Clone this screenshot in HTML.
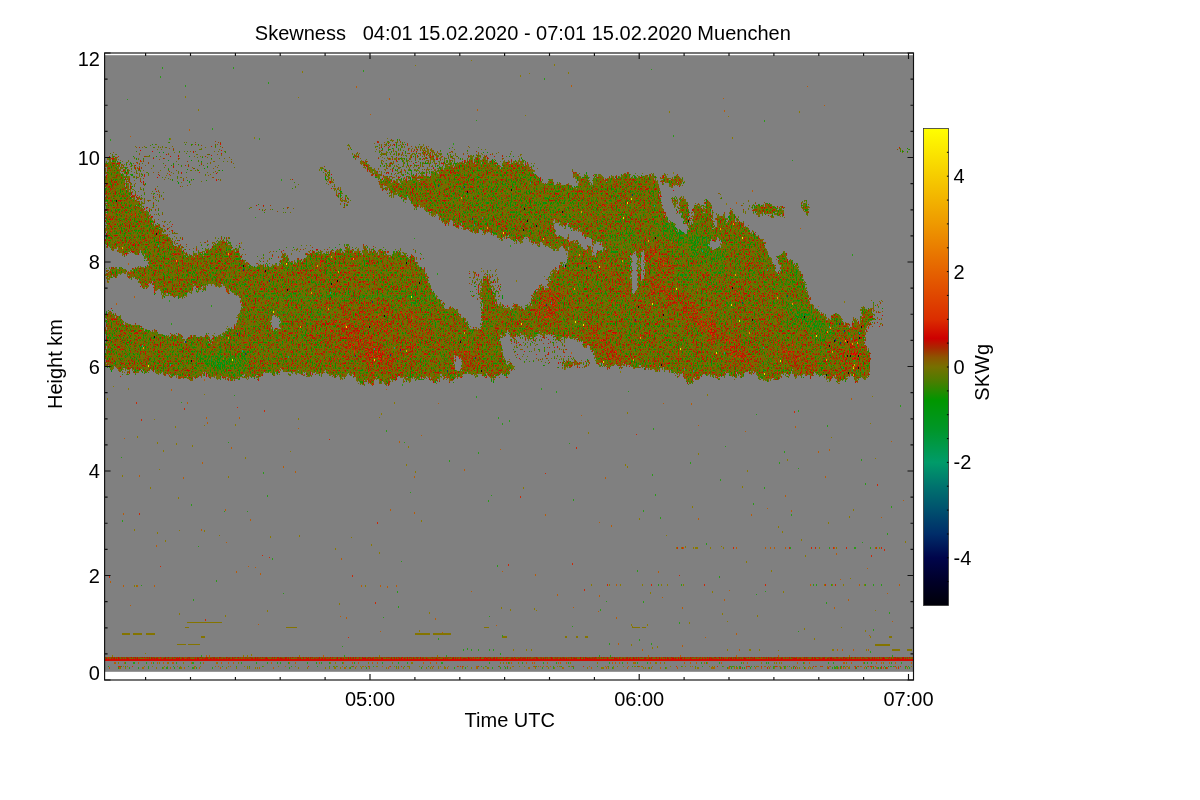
<!DOCTYPE html>
<html lang="en"><head><meta charset="utf-8"><title>Skewness 04:01 15.02.2020 - 07:01 15.02.2020 Muenchen</title>
<style>html,body{margin:0;padding:0;background:#fff}svg{display:block}text{font-family:"Liberation Sans",sans-serif;font-size:20.0px;fill:#000}</style></head><body>
<svg width="1200" height="800" viewBox="0 0 1200 800">
<defs>
<linearGradient id="cb" x1="0" y1="0" x2="0" y2="1">
<stop offset="0.000" stop-color="rgb(255,255,0)"/>
<stop offset="0.100" stop-color="rgb(246,204,0)"/>
<stop offset="0.200" stop-color="rgb(238,153,0)"/>
<stop offset="0.300" stop-color="rgb(229,98,0)"/>
<stop offset="0.400" stop-color="rgb(219,45,0)"/>
<stop offset="0.440" stop-color="rgb(205,0,0)"/>
<stop offset="0.460" stop-color="rgb(168,40,0)"/>
<stop offset="0.480" stop-color="rgb(140,85,0)"/>
<stop offset="0.500" stop-color="rgb(118,112,0)"/>
<stop offset="0.530" stop-color="rgb(75,125,0)"/>
<stop offset="0.570" stop-color="rgb(0,150,0)"/>
<stop offset="0.630" stop-color="rgb(0,150,40)"/>
<stop offset="0.700" stop-color="rgb(0,155,105)"/>
<stop offset="0.750" stop-color="rgb(0,115,110)"/>
<stop offset="0.800" stop-color="rgb(0,80,110)"/>
<stop offset="0.850" stop-color="rgb(0,45,105)"/>
<stop offset="0.900" stop-color="rgb(0,5,75)"/>
<stop offset="0.950" stop-color="rgb(0,0,40)"/>
<stop offset="1.000" stop-color="rgb(0,0,8)"/>
</linearGradient>
<mask id="cm" maskUnits="userSpaceOnUse" x="100" y="50" width="820" height="630">
<polygon fill="#fff" points="105,164 112,161 118,166 123,180 129,195 138,205 150,215 161,229 173,244 187,255 205,255 215,247 225,240 235,247 240,260 255,265 275,266 287,255 292,262 300,262 312,252 330,250 350,250 380,251 400,252 410,255 425,270 432,287 442,302 457,312 467,322 475,329 481,325 481,287 487,276 492,287 496,302 505,307 530,305 532,292 550,285 552,270 565,262 570,252 550,247 525,240 500,237 475,232 450,225 425,212 400,197 375,175 350,150 362,158 380,174 396,183 430,176 452,164 468,159 492,159 500,165 516,161 530,166 540,177 560,187 572,187 580,180 570,170 575,167 590,177 612,176 637,174 657,176 660,192 668,197 680,196 687,199 692,207 707,197 715,212 725,217 732,210 740,222 752,230 760,237 770,252 775,270 780,272 780,265 775,252 785,252 797,265 805,280 810,300 820,312 835,316 850,322 860,320 862,310 872,310 874,322 867,327 865,350 871,352 870,370 865,380 835,380 815,377 785,375 767,380 755,375 710,377 690,380 670,372 650,370 625,366 620,367 597,367 597,360 585,345 565,337 545,334 530,337 505,335 500,337 505,360 515,365 515,372 495,377 462,377 425,380 415,377 400,380 390,385 370,380 365,387 350,377 275,374 240,379 220,380 162,375 125,372 105,369"/>
<polygon fill="#fff" points="660,177 672,176 685,178 684,186 672,187 661,186"/>
<polygon fill="#fff" points="752,203 770,204 785,207 785,216 770,217 753,213"/>
<polygon fill="#fff" points="802,200 809,200 809,212 802,212"/>
<polygon fill="#fff" points="557,362 572,360 590,361 590,367 557,367"/>
<polygon fill="#fff" points="897,151 912,151 912,155 897,155"/>
<polygon fill="#fff" fill-opacity="0.6" points="105,153 118,153 127,165 133,190 146,207 138,206 128,196 121,180 114,164 105,166"/>
<polygon fill="#fff" fill-opacity="0.7" points="344,148 350,146 401,192 394,199"/>
<polygon fill="#fff" fill-opacity="0.33" points="128,142 225,138 232,160 222,185 170,188 135,175"/>
<polygon fill="#fff" fill-opacity="0.42" points="150,186 160,186 168,200 160,204 150,198"/>
<polygon fill="#fff" fill-opacity="0.45" points="229,154 236,154 238,166 232,167"/>
<polygon fill="#fff" fill-opacity="0.62" points="316,165 324,163 352,202 343,208"/>
<polygon fill="#fff" fill-opacity="0.38" points="122,156 140,163 150,195 170,220 192,246 215,238 228,232 240,246 250,258 235,262 222,250 205,262 185,262 165,240 148,215 130,195"/>
<polygon fill="#fff" fill-opacity="0.36" points="250,256 290,246 330,243 420,246 432,262 420,262 410,254 330,252 290,258 260,266"/>
<polygon fill="#fff" fill-opacity="0.36" points="420,150 480,146 530,156 548,172 530,168 480,158 425,160"/>
<polygon fill="#fff" fill-opacity="0.5" points="372,142 400,138 432,148 458,158 450,166 430,177 396,184 380,172"/>
<polygon fill="#fff" fill-opacity="0.4" points="288,180 300,180 300,192 290,192"/>
<polygon fill="#fff" fill-opacity="0.33" points="240,200 300,205 345,225 300,215 250,212"/>
<polygon fill="#fff" fill-opacity="0.45" points="468,268 500,268 505,300 470,300"/>
<polygon fill="#fff" fill-opacity="0.36" points="505,325 560,330 575,355 545,368 515,362"/>
<polygon fill="#fff" fill-opacity="0.45" points="540,280 575,255 590,262 560,292"/>
<polygon fill="#fff" fill-opacity="0.4" points="870,295 884,295 884,330 870,332"/>
<polygon fill="#fff" fill-opacity="0.4" points="740,200 752,200 752,215 740,215"/>
<polygon fill="#fff" fill-opacity="0.38" points="715,188 725,188 725,200 715,200"/>
<polygon fill="#000" points="659,186 670,188 672,205 683,220 690,232 686,235 676,226 668,215 662,205"/>
<polygon fill="#000" points="676,193 680,193 679,214"/>
<polygon fill="#000" points="688,196 693,196 692,221 690,221"/>
<polygon fill="#000" points="701,195 705,195 704,216"/>
<polygon fill="#000" points="712,196 717,196 716,226 714,226"/>
<polygon fill="#000" points="724,208 728,208 727,228"/>
<polygon fill="#000" points="735,210 738,210 737,226"/>
<polygon fill="#000" points="48,0 49,0 48,1"/>
<polygon fill="#000" points="105,277 125,276 150,287 162,296 182,299 200,289 215,286 230,292 242,302 240,312 235,327 225,332 210,337 187,336 162,334 137,324 120,316 105,312"/>
<polygon fill="#000" points="105,251 125,252 140,256 150,262 140,268 125,270 118,267 105,267"/>
<polygon fill="#000" points="272,319 280,319 280,329 272,329"/>
<polygon fill="#000" points="552,224 570,228 590,238 609,250 596,249 575,241 555,233"/>
<polygon fill="#000" points="632,252 637,252 637,290 632,290"/>
<polygon fill="#000" points="641,252 644,252 644,280 641,280"/>
<polygon fill="#000" points="455,357 461,357 461,370 455,370"/>
<polygon fill="#000" points="710,242 720,242 720,252 710,252"/>
</mask>
<filter id="tex" filterUnits="userSpaceOnUse" x="100" y="50" width="820" height="630" color-interpolation-filters="sRGB">
<feTurbulence type="fractalNoise" baseFrequency="0.3 0.03" numOctaves="2" seed="31" result="nd0"/>
<feColorMatrix in="nd0" type="matrix" values="0 0 0 0 0.5  0 1 0 0 0  0 0 0 0 0  0 0 0 0 1" result="nd"/>
<feDisplacementMap in="SourceGraphic" in2="nd" scale="22" xChannelSelector="R" yChannelSelector="G" result="sg"/>
<feTurbulence type="fractalNoise" baseFrequency="0.79 0.43" numOctaves="1" seed="5" result="n"/>
<feColorMatrix in="n" type="matrix" values="1.35 0 0 0 -0.175  1.35 0 0 0 -0.175  1.35 0 0 0 -0.175  0 0 0 0 1" result="ng"/>
<feTurbulence type="fractalNoise" baseFrequency="0.12 0.1" numOctaves="2" seed="9" result="nl0"/>
<feColorMatrix in="nl0" type="matrix" values="0.3 0 0 0 0.35  0.3 0 0 0 0.35  0.3 0 0 0 0.35  0 0 0 0 1" result="nl"/>
<feComposite in="ng" in2="nl" operator="arithmetic" k1="0" k2="1" k3="1" k4="-0.5" result="ns"/>
<feGaussianBlur in="sg" stdDeviation="1.8" result="ba"/>
<feComponentTransfer in="ba" result="sgo"><feFuncA type="linear" slope="0" intercept="1"/></feComponentTransfer>
<feComposite in="ns" in2="sgo" operator="arithmetic" k1="0" k2="1" k3="1" k4="-0.5" result="v"/>
<feComponentTransfer in="v" result="col"><feFuncR type="table" tableValues="0.000 0.000 0.000 0.000 0.000 0.000 0.000 0.000 0.000 0.000 0.000 0.000 0.000 0.000 0.012 0.047 0.082 0.118 0.149 0.184 0.216 0.247 0.278 0.306 0.329 0.349 0.369 0.388 0.408 0.424 0.439 0.455 0.463 0.471 0.478 0.490 0.506 0.518 0.533 0.549 0.569 0.592 0.616 0.639 0.663 0.694 0.729 0.761 0.796 0.808 0.816 0.824 0.831 0.835 0.843 0.851 0.859 0.863 0.863 0.867 0.867 0.871 0.871 0.875 0.878"/><feFuncG type="table" tableValues="0.592 0.592 0.588 0.588 0.588 0.588 0.588 0.588 0.588 0.588 0.588 0.588 0.588 0.588 0.584 0.573 0.561 0.549 0.537 0.525 0.518 0.506 0.494 0.486 0.478 0.475 0.467 0.463 0.455 0.451 0.447 0.443 0.439 0.431 0.420 0.404 0.388 0.369 0.353 0.333 0.298 0.263 0.227 0.192 0.153 0.118 0.082 0.047 0.008 0.016 0.039 0.059 0.082 0.106 0.129 0.153 0.176 0.188 0.200 0.212 0.224 0.235 0.247 0.259 0.271"/><feFuncB type="table" tableValues="0.212 0.188 0.169 0.149 0.137 0.122 0.106 0.090 0.078 0.063 0.051 0.035 0.024 0.008 0.000 0.000 0.000 0.000 0.000 0.000 0.000 0.000 0.000 0.000 0.000 0.000 0.000 0.000 0.000 0.000 0.000 0.000 0.000 0.000 0.000 0.000 0.000 0.000 0.000 0.000 0.000 0.000 0.000 0.000 0.000 0.000 0.000 0.000 0.000 0.000 0.000 0.000 0.000 0.000 0.000 0.000 0.000 0.000 0.000 0.000 0.000 0.000 0.000 0.000 0.000"/><feFuncA type="linear" slope="0" intercept="1"/></feComponentTransfer>
<feColorMatrix in="n" type="matrix" values="0 0 0 0 0  0 0 0 0 0  0 0 0 0 0  0 3 0 0 -1" result="n2a"/>
<feComposite in="ba" in2="n2a" operator="arithmetic" k1="0" k2="1.7" k3="1" k4="-1" result="ra"/>
<feComponentTransfer in="ra" result="m"><feFuncA type="discrete" tableValues="0 1"/></feComponentTransfer>
<feComposite in="col" in2="m" operator="in"/>
</filter>
<filter id="tex2" filterUnits="userSpaceOnUse" x="100" y="650" width="820" height="20" color-interpolation-filters="sRGB">
<feTurbulence type="fractalNoise" baseFrequency="0.83 0.31" numOctaves="1" seed="14" result="n"/>
<feColorMatrix in="n" type="matrix" values="0.9 0 0 0 0.05  0.9 0 0 0 0.05  0.9 0 0 0 0.05  0 0 0 0 1" result="ng"/>
<feComposite in="ng" in2="SourceGraphic" operator="arithmetic" k1="0" k2="1" k3="1" k4="-0.5" result="v"/>
<feComponentTransfer in="v" result="col"><feFuncR type="table" tableValues="0.000 0.000 0.000 0.000 0.000 0.000 0.000 0.000 0.000 0.000 0.000 0.000 0.000 0.000 0.012 0.047 0.082 0.118 0.149 0.184 0.216 0.247 0.278 0.306 0.329 0.349 0.369 0.388 0.408 0.424 0.439 0.455 0.463 0.471 0.478 0.490 0.506 0.518 0.533 0.549 0.569 0.592 0.616 0.639 0.663 0.694 0.729 0.761 0.796 0.808 0.816 0.824 0.831 0.835 0.843 0.851 0.859 0.863 0.863 0.867 0.867 0.871 0.871 0.875 0.878"/><feFuncG type="table" tableValues="0.592 0.592 0.588 0.588 0.588 0.588 0.588 0.588 0.588 0.588 0.588 0.588 0.588 0.588 0.584 0.573 0.561 0.549 0.537 0.525 0.518 0.506 0.494 0.486 0.478 0.475 0.467 0.463 0.455 0.451 0.447 0.443 0.439 0.431 0.420 0.404 0.388 0.369 0.353 0.333 0.298 0.263 0.227 0.192 0.153 0.118 0.082 0.047 0.008 0.016 0.039 0.059 0.082 0.106 0.129 0.153 0.176 0.188 0.200 0.212 0.224 0.235 0.247 0.259 0.271"/><feFuncB type="table" tableValues="0.212 0.188 0.169 0.149 0.137 0.122 0.106 0.090 0.078 0.063 0.051 0.035 0.024 0.008 0.000 0.000 0.000 0.000 0.000 0.000 0.000 0.000 0.000 0.000 0.000 0.000 0.000 0.000 0.000 0.000 0.000 0.000 0.000 0.000 0.000 0.000 0.000 0.000 0.000 0.000 0.000 0.000 0.000 0.000 0.000 0.000 0.000 0.000 0.000 0.000 0.000 0.000 0.000 0.000 0.000 0.000 0.000 0.000 0.000 0.000 0.000 0.000 0.000 0.000 0.000"/><feFuncA type="linear" slope="0" intercept="1"/></feComponentTransfer>
<feComposite in="col" in2="SourceAlpha" operator="in"/>
</filter>
<filter id="bl2" x="-10%" y="-300%" width="120%" height="700%"><feGaussianBlur stdDeviation="1.2"/></filter>
<filter id="bl" x="-50%" y="-50%" width="200%" height="200%"><feGaussianBlur stdDeviation="5"/></filter>
</defs>
<rect x="0" y="0" width="1200" height="800" fill="#fff"/>
<rect x="105" y="55.2" width="808.2" height="616.6" fill="#808080"/>
<g filter="url(#tex)"><g mask="url(#cm)">
<rect x="100" y="130" width="820" height="270" fill="#7c7c7c"/>
<g filter="url(#bl)">
<ellipse cx="375" cy="335" rx="55" ry="32" fill="#c7c7c7" fill-opacity="0.2"/>
<ellipse cx="345" cy="300" rx="40" ry="30" fill="#c7c7c7" fill-opacity="0.075"/>
<ellipse cx="465" cy="360" rx="10" ry="9" fill="#c7c7c7" fill-opacity="0.625"/>
<ellipse cx="549" cy="308" rx="10" ry="20" fill="#c7c7c7" fill-opacity="0.5"/>
<ellipse cx="850" cy="352" rx="20" ry="24" fill="#c7c7c7" fill-opacity="0.25"/>
<ellipse cx="222" cy="362" rx="24" ry="9" fill="#383838" fill-opacity="0.75"/>
<ellipse cx="170" cy="350" rx="60" ry="18" fill="#383838" fill-opacity="0.0625"/>
<ellipse cx="624" cy="241" rx="16" ry="8" fill="#383838" fill-opacity="0.375"/>
<ellipse cx="520" cy="200" rx="60" ry="20" fill="#383838" fill-opacity="0.125"/>
<path d="M347 330L392 370" stroke="#c7c7c7" stroke-width="13" stroke-opacity="0.5" stroke-linecap="round" fill="none"/>
<path d="M645 253L672 266" stroke="#c7c7c7" stroke-width="8" stroke-opacity="0.6875" stroke-linecap="round" fill="none"/>
<path d="M654 282L750 362" stroke="#c7c7c7" stroke-width="12" stroke-opacity="0.625" stroke-linecap="round" fill="none"/>
<path d="M591 330L618 362" stroke="#c7c7c7" stroke-width="10" stroke-opacity="0.625" stroke-linecap="round" fill="none"/>
<path d="M780 348L812 370" stroke="#c7c7c7" stroke-width="7" stroke-opacity="0.8125" stroke-linecap="round" fill="none"/>
<path d="M726 282L768 330" stroke="#c7c7c7" stroke-width="8" stroke-opacity="0.3125" stroke-linecap="round" fill="none"/>
<path d="M600 262L650 312" stroke="#c7c7c7" stroke-width="10" stroke-opacity="0.25" stroke-linecap="round" fill="none"/>
<path d="M666 225L708 249" stroke="#383838" stroke-width="14" stroke-opacity="0.6875" stroke-linecap="round" fill="none"/>
<path d="M708 249L722 272" stroke="#383838" stroke-width="12" stroke-opacity="0.5625" stroke-linecap="round" fill="none"/>
<path d="M792 306L830 338" stroke="#383838" stroke-width="14" stroke-opacity="0.5625" stroke-linecap="round" fill="none"/>
<path d="M774 252L804 290" stroke="#383838" stroke-width="10" stroke-opacity="0.375" stroke-linecap="round" fill="none"/>
<path d="M676 255L684 285" stroke="#383838" stroke-width="8" stroke-opacity="0.5" stroke-linecap="round" fill="none"/>
</g>
<g filter="url(#bl2)">
<path d="M262 296L436 296" stroke="#383838" stroke-width="3" stroke-opacity="0.5" fill="none"/>
<path d="M246 312L340 312" stroke="#383838" stroke-width="3" stroke-opacity="0.375" fill="none"/>
<path d="M410 302L440 302" stroke="#383838" stroke-width="2" stroke-opacity="0.375" fill="none"/>
<path d="M200 361L245 366" stroke="#383838" stroke-width="4" stroke-opacity="0.375" fill="none"/>
</g>
</g></g>
<g stroke="#169c14" fill="none" shape-rendering="crispEdges"><path d="M254 296.5H436" stroke-width="2" stroke-opacity="0.5" stroke-dasharray="2 1 1 2 3 1 1 1 4 2 1 1"/><path d="M250 313.5H330" stroke-width="2" stroke-opacity="0.38" stroke-dasharray="1 2 2 1 1 1 3 2"/><path d="M410 302.5H440" stroke-width="1" stroke-opacity="0.4" stroke-dasharray="2 1 1 2"/></g>
<g shape-rendering="crispEdges">
<path d="M187 622h35v1h-35zM122 633h8v2h-8zM133 633h9v2h-9zM146 633h9v2h-9zM177 644h9v1h-9zM188 644h12v1h-12zM185 627h4v1h-4zM286 627h11v1h-11zM201 636h4v2h-4zM415 633h15v2h-15zM433 633h18v2h-18zM484 627h5v1h-5zM502 636h5v2h-5zM632 627h8v1h-8zM642 627h4v1h-4zM565 636h2v2h-2zM576 636h2v2h-2zM585 636h3v2h-3zM875 644h15v2h-15zM889 636h3v2h-3zM892 649h8v2h-8zM907 649h5v2h-5z" fill="#847400"/>
<path d="M676 547h1v2h-1zM681 547h1v2h-1zM693 547h1v2h-1zM695 547h1v2h-1zM696 547h1v2h-1zM697 547h1v2h-1zM710 547h1v2h-1zM723 547h1v2h-1zM819 547h1v2h-1zM836 547h1v2h-1zM875 547h1v2h-1zM879 547h1v2h-1zM591 584h1v2h-1zM609 584h1v2h-1zM620 584h1v2h-1zM642 584h1v2h-1zM661 584h1v2h-1zM667 584h1v2h-1zM683 584h1v2h-1zM824 584h1v2h-1zM832 584h1v2h-1zM843 584h1v2h-1zM864 584h1v2h-1zM134 585h1v2h-1zM136 585h1v2h-1zM365 585h1v2h-1zM513 649h1v2h-1zM526 649h1v2h-1zM531 649h1v2h-1zM631 644h1v2h-1zM727 649h1v2h-1zM749 649h1v2h-1zM750 649h1v2h-1zM759 649h1v2h-1zM832 649h1v2h-1zM833 649h1v2h-1zM866 649h1v2h-1zM689 622h1v2h-1zM118 662h1v2h-1zM159 662h1v2h-1zM168 662h1v2h-1zM183 662h1v2h-1zM217 662h1v2h-1zM238 662h1v2h-1zM330 662h1v2h-1zM335 662h1v2h-1zM368 662h1v2h-1zM392 662h1v2h-1zM411 662h1v2h-1zM412 662h1v2h-1zM500 662h1v2h-1zM503 662h1v2h-1zM509 662h1v2h-1zM518 662h1v2h-1zM570 662h1v2h-1zM597 662h1v2h-1zM633 662h1v2h-1zM635 662h1v2h-1zM655 662h1v2h-1zM656 662h1v2h-1zM664 662h1v2h-1zM743 662h1v2h-1zM761 662h1v2h-1zM774 662h1v2h-1zM776 662h1v2h-1zM779 662h1v2h-1zM781 662h1v2h-1zM846 662h1v2h-1zM883 662h1v2h-1zM144 666h1v1h-1zM152 666h1v1h-1zM164 666h1v1h-1zM167 666h1v1h-1zM180 666h1v1h-1zM194 666h1v1h-1zM195 666h1v1h-1zM200 666h1v1h-1zM215 666h1v1h-1zM228 666h1v1h-1zM244 666h1v1h-1zM247 666h1v1h-1zM263 666h1v1h-1zM278 666h1v1h-1zM295 666h1v1h-1zM334 666h1v1h-1zM337 666h1v1h-1zM351 666h1v1h-1zM360 666h1v1h-1zM362 666h1v1h-1zM365 666h1v1h-1zM369 666h1v1h-1zM376 666h1v1h-1zM377 666h1v1h-1zM394 666h1v1h-1zM398 666h1v1h-1zM407 666h1v1h-1zM408 666h1v1h-1zM409 666h1v1h-1zM419 666h1v1h-1zM422 666h1v1h-1zM431 666h1v1h-1zM438 666h1v1h-1zM444 666h1v1h-1zM448 666h1v1h-1zM458 666h1v1h-1zM463 666h1v1h-1zM467 666h1v1h-1zM477 666h1v1h-1zM486 666h1v1h-1zM513 666h1v1h-1zM519 666h1v1h-1zM524 666h1v1h-1zM533 666h1v1h-1zM535 666h1v1h-1zM547 666h1v1h-1zM557 666h1v1h-1zM559 666h1v1h-1zM560 666h1v1h-1zM568 666h1v1h-1zM613 666h1v1h-1zM617 666h1v1h-1zM623 666h1v1h-1zM634 666h1v1h-1zM635 666h1v1h-1zM639 666h1v1h-1zM642 666h1v1h-1zM670 666h1v1h-1zM682 666h1v1h-1zM685 666h1v1h-1zM690 666h1v1h-1zM709 666h1v1h-1zM712 666h1v1h-1zM714 666h1v1h-1zM120 667h1v2h-1zM125 667h1v2h-1zM142 667h1v2h-1zM156 667h1v2h-1zM163 667h1v2h-1zM180 667h1v2h-1zM181 667h1v2h-1zM226 667h1v2h-1zM236 667h1v2h-1zM247 667h1v2h-1zM249 667h1v2h-1zM255 667h1v2h-1zM257 667h1v2h-1zM298 667h1v2h-1zM307 667h1v2h-1zM325 667h1v2h-1zM329 667h1v2h-1zM334 667h1v2h-1zM335 667h1v2h-1zM340 667h1v2h-1zM344 667h1v2h-1zM349 667h1v2h-1zM355 667h1v2h-1zM361 667h1v2h-1zM369 667h1v2h-1zM386 667h1v2h-1zM396 667h1v2h-1zM398 667h1v2h-1zM403 667h1v2h-1zM409 667h1v2h-1zM426 667h1v2h-1zM430 667h1v2h-1zM432 667h1v2h-1zM438 667h1v2h-1zM444 667h1v2h-1zM445 667h1v2h-1zM462 667h1v2h-1zM471 667h1v2h-1zM477 667h1v2h-1zM483 667h1v2h-1zM487 667h1v2h-1zM488 667h1v2h-1zM510 667h1v2h-1zM528 667h1v2h-1zM535 667h1v2h-1zM548 667h1v2h-1zM554 667h1v2h-1zM562 667h1v2h-1zM587 667h1v2h-1zM601 667h1v2h-1zM602 667h1v2h-1zM603 667h1v2h-1zM608 667h1v2h-1zM613 667h1v2h-1zM643 667h1v2h-1zM645 667h1v2h-1zM651 667h1v2h-1zM666 667h1v2h-1zM695 667h1v2h-1zM697 667h1v2h-1zM698 667h1v2h-1zM711 667h1v2h-1zM713 667h1v2h-1zM723 666h1v1h-1zM731 666h1v1h-1zM734 666h1v1h-1zM747 666h1v1h-1zM756 666h1v1h-1zM758 666h1v1h-1zM764 666h1v1h-1zM765 666h1v1h-1zM768 666h1v1h-1zM780 666h1v1h-1zM796 666h1v1h-1zM803 666h1v1h-1zM809 666h1v1h-1zM816 666h1v1h-1zM821 666h1v1h-1zM827 666h1v1h-1zM830 666h1v1h-1zM847 666h1v1h-1zM854 666h1v1h-1zM857 666h1v1h-1zM860 666h1v1h-1zM865 666h1v1h-1zM867 666h1v1h-1zM872 666h1v1h-1zM873 666h1v1h-1zM894 666h1v1h-1zM898 666h1v1h-1zM911 666h1v1h-1zM734 667h1v2h-1zM736 667h1v2h-1zM769 667h1v2h-1zM774 667h1v2h-1zM785 667h1v2h-1zM791 667h1v2h-1zM797 667h1v2h-1zM799 667h1v2h-1zM810 667h1v2h-1zM812 667h1v2h-1zM827 667h1v2h-1zM836 667h1v2h-1zM848 667h1v2h-1zM849 667h1v2h-1zM877 667h1v2h-1zM907 667h1v2h-1zM112 655h1v2h-1zM243 655h1v2h-1zM247 655h1v2h-1zM299 655h1v2h-1zM379 655h1v2h-1zM437 655h1v2h-1zM849 655h1v2h-1zM298 97h1v1h-1zM529 73h1v1h-1zM732 137h1v2h-1zM525 115h1v1h-1zM728 116h1v1h-1zM520 75h1v2h-1zM568 72h1v2h-1zM415 65h1v1h-1zM669 111h1v2h-1zM170 138h1v2h-1zM799 111h1v2h-1zM254 137h1v2h-1zM471 60h1v1h-1zM554 64h1v2h-1zM302 71h1v2h-1zM198 109h1v2h-1zM185 96h1v2h-1zM466 195h1v2h-1zM565 368h1v2h-1zM113 386h1v1h-1zM107 282h1v1h-1zM671 241h1v2h-1zM416 371h1v1h-1zM217 342h1v2h-1zM516 280h1v2h-1zM673 172h1v2h-1zM483 270h1v2h-1zM696 248h1v2h-1zM351 337h1v1h-1zM168 337h1v1h-1zM602 212h1v1h-1zM585 346h1v2h-1zM726 203h1v2h-1zM241 242h1v2h-1zM412 317h1v2h-1zM844 301h1v2h-1zM845 355h1v2h-1zM389 322h1v1h-1zM620 371h1v2h-1zM663 308h1v2h-1zM875 458h1v1h-1zM165 540h1v2h-1zM107 398h1v2h-1zM228 476h1v2h-1zM204 530h1v2h-1zM179 530h1v1h-1zM783 591h1v2h-1zM270 536h1v2h-1zM685 546h1v2h-1zM157 532h1v2h-1zM536 610h1v1h-1zM157 442h1v2h-1zM721 546h1v1h-1zM204 425h1v1h-1zM666 535h1v1h-1zM631 624h1v2h-1zM137 436h1v2h-1zM657 646h1v2h-1zM625 464h1v2h-1zM163 450h1v2h-1zM290 451h1v1h-1zM408 446h1v2h-1zM853 509h1v2h-1zM698 453h1v2h-1zM841 627h1v1h-1zM134 529h1v2h-1zM870 423h1v1h-1zM627 412h1v2h-1zM707 394h1v2h-1zM727 621h1v1h-1zM742 486h1v2h-1zM298 418h1v2h-1zM712 591h1v2h-1zM828 522h1v2h-1zM150 487h1v2h-1zM510 609h1v2h-1zM534 608h1v2h-1zM778 526h1v2h-1zM245 457h1v2h-1zM850 578h1v1h-1zM905 541h1v2h-1zM204 394h1v1h-1zM627 466h1v2h-1zM379 417h1v1h-1zM219 535h1v1h-1zM429 612h1v2h-1zM865 630h1v2h-1zM225 615h1v2h-1zM406 464h1v2h-1zM692 506h1v2h-1zM339 603h1v2h-1zM176 443h1v2h-1zM178 497h1v2h-1zM267 610h1v2h-1zM501 607h1v2h-1zM351 537h1v1h-1zM128 388h1v2h-1zM875 610h1v1h-1zM632 626h1v1h-1zM805 555h1v2h-1zM394 402h1v2h-1zM588 432h1v2h-1zM771 570h1v2h-1zM523 487h1v2h-1zM849 516h1v2h-1zM154 419h1v1h-1zM831 437h1v1h-1zM179 613h1v2h-1zM778 650h1v1h-1zM335 548h1v2h-1zM251 654h1v2h-1zM175 426h1v2h-1zM652 647h1v2h-1zM639 518h1v2h-1zM872 396h1v1h-1zM415 471h1v2h-1zM421 520h1v2h-1zM650 592h1v2h-1zM381 413h1v2h-1zM159 469h1v1h-1zM122 475h1v2h-1zM801 539h1v2h-1zM379 552h1v2h-1zM782 531h1v2h-1zM145 653h1v1h-1zM746 561h1v2h-1zM757 615h1v2h-1zM722 613h1v2h-1zM787 459h1v2h-1zM747 470h1v2h-1zM235 424h1v2h-1zM804 628h1v2h-1zM647 624h1v2h-1zM870 636h1v2h-1zM371 544h1v2h-1zM192 445h1v2h-1zM814 638h1v2h-1zM299 535h1v2h-1zM419 630h1v2h-1z" fill="#8a7a00"/>
<path d="M677 547h1v2h-1zM682 547h1v2h-1zM733 547h1v2h-1zM789 547h1v2h-1zM811 547h1v2h-1zM815 547h1v2h-1zM833 547h1v2h-1zM846 547h1v2h-1zM876 547h1v2h-1zM881 547h1v2h-1zM607 584h1v2h-1zM651 584h1v2h-1zM704 584h1v2h-1zM765 584h1v2h-1zM825 584h1v2h-1zM835 584h1v2h-1zM118 666h1v1h-1zM119 666h1v1h-1zM120 666h1v1h-1zM132 666h1v1h-1zM308 666h1v1h-1zM353 666h1v1h-1zM368 666h1v1h-1zM390 666h1v1h-1zM401 666h1v1h-1zM433 666h1v1h-1zM457 666h1v1h-1zM460 666h1v1h-1zM462 666h1v1h-1zM478 666h1v1h-1zM499 666h1v1h-1zM507 666h1v1h-1zM534 666h1v1h-1zM573 666h1v1h-1zM583 666h1v1h-1zM638 666h1v1h-1zM676 666h1v1h-1zM717 666h1v1h-1zM729 666h1v1h-1zM746 666h1v1h-1zM748 666h1v1h-1zM749 666h1v1h-1zM761 666h1v1h-1zM775 666h1v1h-1zM776 666h1v1h-1zM793 666h1v1h-1zM813 666h1v1h-1zM815 666h1v1h-1zM820 666h1v1h-1zM822 666h1v1h-1zM841 666h1v1h-1zM855 666h1v1h-1zM858 666h1v1h-1zM868 666h1v1h-1zM870 666h1v1h-1zM871 666h1v1h-1zM875 666h1v1h-1zM881 666h1v1h-1zM895 666h1v1h-1zM900 666h1v1h-1zM906 666h1v1h-1zM740 667h1v2h-1zM767 667h1v2h-1zM795 667h1v2h-1zM828 667h1v2h-1zM855 667h1v2h-1zM881 667h1v2h-1zM886 667h1v2h-1zM898 667h1v2h-1zM237 407h1v1h-1zM109 576h1v2h-1zM136 402h1v2h-1zM141 419h1v2h-1zM545 473h1v1h-1zM871 555h1v2h-1zM329 439h1v1h-1zM375 602h1v2h-1zM794 411h1v2h-1zM139 513h1v2h-1zM352 575h1v2h-1zM572 563h1v2h-1zM576 447h1v2h-1zM264 410h1v2h-1zM262 555h1v1h-1zM679 575h1v1h-1zM160 566h1v1h-1zM520 496h1v2h-1zM584 589h1v2h-1zM184 408h1v2h-1zM377 522h1v2h-1zM269 557h1v1h-1zM508 564h1v2h-1zM636 434h1v1h-1zM884 549h1v2h-1zM877 484h1v2h-1zM205 619h1v2h-1zM348 637h1v1h-1z" fill="#cc2808"/>
<path d="M790 547h1v2h-1zM829 547h1v2h-1zM854 547h1v2h-1zM855 547h1v2h-1zM870 547h1v2h-1zM658 584h1v2h-1zM681 584h1v2h-1zM813 584h1v2h-1zM816 584h1v2h-1zM831 584h1v2h-1zM865 584h1v2h-1zM873 584h1v2h-1zM881 584h1v2h-1zM463 649h1v2h-1zM471 649h1v2h-1zM478 649h1v2h-1zM489 649h1v2h-1zM493 649h1v2h-1zM679 622h1v2h-1zM125 662h1v2h-1zM133 662h1v2h-1zM134 662h1v2h-1zM146 662h1v2h-1zM153 662h1v2h-1zM176 662h1v2h-1zM192 662h1v2h-1zM193 662h1v2h-1zM200 662h1v2h-1zM241 662h1v2h-1zM256 662h1v2h-1zM267 662h1v2h-1zM277 662h1v2h-1zM280 662h1v2h-1zM288 662h1v2h-1zM307 662h1v2h-1zM316 662h1v2h-1zM321 662h1v2h-1zM329 662h1v2h-1zM342 662h1v2h-1zM354 662h1v2h-1zM382 662h1v2h-1zM398 662h1v2h-1zM407 662h1v2h-1zM441 662h1v2h-1zM442 662h1v2h-1zM489 662h1v2h-1zM508 662h1v2h-1zM522 662h1v2h-1zM543 662h1v2h-1zM556 662h1v2h-1zM568 662h1v2h-1zM609 662h1v2h-1zM622 662h1v2h-1zM637 662h1v2h-1zM647 662h1v2h-1zM701 662h1v2h-1zM706 662h1v2h-1zM719 662h1v2h-1zM741 662h1v2h-1zM766 662h1v2h-1zM768 662h1v2h-1zM803 662h1v2h-1zM828 662h1v2h-1zM833 662h1v2h-1zM864 662h1v2h-1zM867 662h1v2h-1zM871 662h1v2h-1zM891 662h1v2h-1zM901 662h1v2h-1zM108 666h1v1h-1zM121 666h1v1h-1zM125 666h1v1h-1zM148 666h1v1h-1zM173 666h1v1h-1zM188 666h1v1h-1zM222 666h1v1h-1zM236 666h1v1h-1zM249 666h1v1h-1zM262 666h1v1h-1zM291 666h1v1h-1zM317 666h1v1h-1zM329 666h1v1h-1zM333 666h1v1h-1zM336 666h1v1h-1zM346 666h1v1h-1zM352 666h1v1h-1zM373 666h1v1h-1zM396 666h1v1h-1zM404 666h1v1h-1zM428 666h1v1h-1zM481 666h1v1h-1zM485 666h1v1h-1zM498 666h1v1h-1zM504 666h1v1h-1zM536 666h1v1h-1zM553 666h1v1h-1zM561 666h1v1h-1zM569 666h1v1h-1zM572 666h1v1h-1zM597 666h1v1h-1zM608 666h1v1h-1zM632 666h1v1h-1zM637 666h1v1h-1zM681 666h1v1h-1zM695 666h1v1h-1zM702 666h1v1h-1zM118 667h1v2h-1zM129 667h1v2h-1zM138 667h1v2h-1zM148 667h1v2h-1zM162 667h1v2h-1zM166 667h1v2h-1zM167 667h1v2h-1zM174 667h1v2h-1zM179 667h1v2h-1zM192 667h1v2h-1zM193 667h1v2h-1zM196 667h1v2h-1zM212 667h1v2h-1zM289 667h1v2h-1zM350 667h1v2h-1zM366 667h1v2h-1zM421 667h1v2h-1zM454 667h1v2h-1zM465 667h1v2h-1zM492 667h1v2h-1zM500 667h1v2h-1zM505 667h1v2h-1zM507 667h1v2h-1zM542 667h1v2h-1zM553 667h1v2h-1zM573 667h1v2h-1zM612 667h1v2h-1zM649 667h1v2h-1zM665 667h1v2h-1zM722 666h1v1h-1zM730 666h1v1h-1zM732 666h1v1h-1zM733 666h1v1h-1zM736 666h1v1h-1zM739 666h1v1h-1zM740 666h1v1h-1zM751 666h1v1h-1zM754 666h1v1h-1zM773 666h1v1h-1zM774 666h1v1h-1zM784 666h1v1h-1zM785 666h1v1h-1zM789 666h1v1h-1zM794 666h1v1h-1zM834 666h1v1h-1zM836 666h1v1h-1zM837 666h1v1h-1zM840 666h1v1h-1zM843 666h1v1h-1zM844 666h1v1h-1zM884 666h1v1h-1zM888 666h1v1h-1zM890 666h1v1h-1zM891 666h1v1h-1zM893 666h1v1h-1zM905 666h1v1h-1zM908 666h1v1h-1zM727 667h1v2h-1zM731 667h1v2h-1zM739 667h1v2h-1zM742 667h1v2h-1zM744 667h1v2h-1zM750 667h1v2h-1zM773 667h1v2h-1zM780 667h1v2h-1zM784 667h1v2h-1zM793 667h1v2h-1zM804 667h1v2h-1zM832 667h1v2h-1zM834 667h1v2h-1zM835 667h1v2h-1zM837 667h1v2h-1zM840 667h1v2h-1zM856 667h1v2h-1zM866 667h1v2h-1zM873 667h1v2h-1zM878 667h1v2h-1zM880 667h1v2h-1zM885 667h1v2h-1zM905 667h1v2h-1zM909 667h1v2h-1zM201 655h1v2h-1zM344 655h1v2h-1zM446 655h1v2h-1zM599 655h1v2h-1zM610 655h1v2h-1zM892 655h1v2h-1zM127 99h1v1h-1zM259 138h1v2h-1zM651 69h1v1h-1zM476 120h1v1h-1zM110 139h1v2h-1zM268 82h1v2h-1zM233 67h1v2h-1zM363 70h1v2h-1zM673 135h1v2h-1zM764 120h1v2h-1zM212 128h1v2h-1zM185 85h1v2h-1zM160 76h1v2h-1zM453 143h1v2h-1zM544 78h1v2h-1zM169 138h1v2h-1zM162 67h1v2h-1zM281 179h1v2h-1zM758 330h1v1h-1zM471 216h1v2h-1zM792 160h1v1h-1zM414 238h1v1h-1zM392 190h1v1h-1zM510 245h1v2h-1zM402 384h1v2h-1zM171 323h1v2h-1zM480 164h1v1h-1zM304 299h1v2h-1zM169 300h1v2h-1zM599 366h1v1h-1zM241 315h1v2h-1zM612 286h1v1h-1zM634 216h1v2h-1zM703 292h1v2h-1zM619 196h1v2h-1zM706 329h1v1h-1zM852 254h1v2h-1zM321 169h1v2h-1zM421 334h1v1h-1zM437 273h1v2h-1zM634 349h1v2h-1zM211 305h1v2h-1zM255 217h1v1h-1zM502 635h1v2h-1zM725 446h1v1h-1zM122 520h1v2h-1zM491 495h1v1h-1zM541 388h1v2h-1zM655 494h1v2h-1zM660 517h1v2h-1zM643 510h1v2h-1zM628 391h1v1h-1zM198 546h1v1h-1zM652 474h1v2h-1zM756 594h1v1h-1zM272 558h1v2h-1zM438 638h1v2h-1zM397 591h1v2h-1zM283 593h1v1h-1zM141 585h1v1h-1zM234 395h1v1h-1zM573 499h1v2h-1zM216 580h1v2h-1zM873 629h1v2h-1zM500 653h1v2h-1zM779 462h1v2h-1zM572 626h1v1h-1zM556 391h1v2h-1zM449 460h1v2h-1zM569 443h1v1h-1zM401 561h1v1h-1zM862 542h1v1h-1zM606 601h1v1h-1zM228 442h1v1h-1zM342 646h1v1h-1zM488 500h1v2h-1zM497 565h1v2h-1zM889 612h1v2h-1zM404 442h1v1h-1zM467 648h1v2h-1zM887 533h1v2h-1zM643 601h1v2h-1zM181 402h1v1h-1zM651 643h1v2h-1zM263 472h1v2h-1zM827 425h1v2h-1zM900 405h1v2h-1zM247 511h1v1h-1zM706 543h1v2h-1zM764 487h1v2h-1zM121 457h1v1h-1zM224 511h1v1h-1zM600 609h1v2h-1zM398 606h1v2h-1zM720 479h1v2h-1zM193 599h1v2h-1zM386 430h1v2h-1zM765 591h1v1h-1zM791 514h1v2h-1zM719 576h1v2h-1zM891 506h1v2h-1zM826 602h1v2h-1zM191 504h1v2h-1zM690 462h1v2h-1zM865 483h1v2h-1zM870 651h1v2h-1zM653 428h1v2h-1zM383 617h1v1h-1zM476 396h1v2h-1zM798 468h1v1h-1zM502 423h1v2h-1zM498 417h1v2h-1zM637 570h1v2h-1zM489 616h1v1h-1zM410 492h1v1h-1zM756 414h1v1h-1zM609 643h1v2h-1zM753 503h1v2h-1zM267 495h1v2h-1zM861 459h1v2h-1zM478 452h1v2h-1zM798 631h1v1h-1zM798 410h1v2h-1zM784 451h1v2h-1zM509 420h1v2h-1zM639 639h1v2h-1z" fill="#2a9a18"/>
<path d="M683 547h1v2h-1zM736 547h1v2h-1zM765 547h1v2h-1zM770 547h1v2h-1zM774 547h1v2h-1zM785 547h1v2h-1zM834 547h1v2h-1zM616 584h1v2h-1zM810 584h1v2h-1zM859 584h1v2h-1zM899 584h1v2h-1zM123 585h1v2h-1zM137 585h1v2h-1zM154 585h1v2h-1zM361 585h1v2h-1zM380 585h1v2h-1zM396 585h1v2h-1zM848 599h1v2h-1zM739 649h1v2h-1zM837 649h1v2h-1zM842 649h1v2h-1zM853 649h1v2h-1zM868 649h1v2h-1zM114 662h1v2h-1zM115 662h1v2h-1zM124 662h1v2h-1zM138 662h1v2h-1zM151 662h1v2h-1zM157 662h1v2h-1zM163 662h1v2h-1zM167 662h1v2h-1zM172 662h1v2h-1zM173 662h1v2h-1zM191 662h1v2h-1zM203 662h1v2h-1zM216 662h1v2h-1zM221 662h1v2h-1zM228 662h1v2h-1zM233 662h1v2h-1zM271 662h1v2h-1zM289 662h1v2h-1zM295 662h1v2h-1zM319 662h1v2h-1zM343 662h1v2h-1zM352 662h1v2h-1zM358 662h1v2h-1zM372 662h1v2h-1zM377 662h1v2h-1zM423 662h1v2h-1zM430 662h1v2h-1zM436 662h1v2h-1zM506 662h1v2h-1zM511 662h1v2h-1zM526 662h1v2h-1zM532 662h1v2h-1zM534 662h1v2h-1zM547 662h1v2h-1zM558 662h1v2h-1zM560 662h1v2h-1zM566 662h1v2h-1zM612 662h1v2h-1zM615 662h1v2h-1zM619 662h1v2h-1zM627 662h1v2h-1zM634 662h1v2h-1zM650 662h1v2h-1zM660 662h1v2h-1zM684 662h1v2h-1zM690 662h1v2h-1zM696 662h1v2h-1zM704 662h1v2h-1zM707 662h1v2h-1zM721 662h1v2h-1zM747 662h1v2h-1zM797 662h1v2h-1zM804 662h1v2h-1zM809 662h1v2h-1zM843 662h1v2h-1zM844 662h1v2h-1zM851 662h1v2h-1zM863 662h1v2h-1zM876 662h1v2h-1zM881 662h1v2h-1zM889 662h1v2h-1zM895 662h1v2h-1zM911 662h1v2h-1zM123 666h1v1h-1zM127 666h1v1h-1zM177 666h1v1h-1zM218 666h1v1h-1zM230 666h1v1h-1zM285 666h1v1h-1zM342 666h1v1h-1zM356 666h1v1h-1zM363 666h1v1h-1zM382 666h1v1h-1zM389 666h1v1h-1zM440 666h1v1h-1zM476 666h1v1h-1zM512 666h1v1h-1zM538 666h1v1h-1zM540 666h1v1h-1zM543 666h1v1h-1zM546 666h1v1h-1zM550 666h1v1h-1zM571 666h1v1h-1zM589 666h1v1h-1zM605 666h1v1h-1zM607 666h1v1h-1zM628 666h1v1h-1zM641 666h1v1h-1zM652 666h1v1h-1zM692 666h1v1h-1zM109 667h1v2h-1zM119 667h1v2h-1zM143 667h1v2h-1zM170 667h1v2h-1zM184 667h1v2h-1zM194 667h1v2h-1zM199 667h1v2h-1zM220 667h1v2h-1zM259 667h1v2h-1zM273 667h1v2h-1zM345 667h1v2h-1zM388 667h1v2h-1zM447 667h1v2h-1zM476 667h1v2h-1zM529 667h1v2h-1zM563 667h1v2h-1zM591 667h1v2h-1zM606 667h1v2h-1zM627 667h1v2h-1zM648 667h1v2h-1zM660 667h1v2h-1zM677 667h1v2h-1zM712 667h1v2h-1zM714 667h1v2h-1zM757 666h1v1h-1zM770 666h1v1h-1zM777 666h1v1h-1zM779 666h1v1h-1zM783 666h1v1h-1zM787 666h1v1h-1zM829 666h1v1h-1zM846 666h1v1h-1zM849 666h1v1h-1zM861 666h1v1h-1zM728 667h1v2h-1zM729 667h1v2h-1zM737 667h1v2h-1zM746 667h1v2h-1zM755 667h1v2h-1zM761 667h1v2h-1zM781 667h1v2h-1zM805 667h1v2h-1zM808 667h1v2h-1zM838 667h1v2h-1zM841 667h1v2h-1zM843 667h1v2h-1zM845 667h1v2h-1zM864 667h1v2h-1zM871 667h1v2h-1zM876 667h1v2h-1zM883 667h1v2h-1zM887 667h1v2h-1zM896 667h1v2h-1zM206 655h1v2h-1zM209 655h1v2h-1zM323 655h1v2h-1zM648 655h1v2h-1zM680 655h1v2h-1zM736 655h1v2h-1zM778 655h1v2h-1zM356 86h1v2h-1zM807 86h1v1h-1zM571 85h1v2h-1zM824 105h1v1h-1zM130 136h1v1h-1zM723 98h1v1h-1zM389 98h1v2h-1zM724 110h1v2h-1zM189 129h1v2h-1zM477 109h1v2h-1zM370 114h1v1h-1zM684 369h1v2h-1zM799 357h1v2h-1zM639 261h1v2h-1zM338 358h1v1h-1zM116 303h1v2h-1zM818 306h1v1h-1zM592 249h1v2h-1zM571 352h1v2h-1zM128 263h1v2h-1zM228 254h1v2h-1zM736 202h1v2h-1zM800 228h1v1h-1zM150 209h1v1h-1zM223 358h1v2h-1zM880 312h1v1h-1zM697 289h1v2h-1zM378 314h1v2h-1zM547 309h1v1h-1zM134 296h1v2h-1zM204 379h1v2h-1zM752 190h1v2h-1zM414 476h1v2h-1zM250 519h1v2h-1zM840 579h1v1h-1zM260 573h1v2h-1zM698 425h1v1h-1zM226 542h1v1h-1zM698 518h1v2h-1zM836 553h1v2h-1zM834 607h1v2h-1zM598 611h1v1h-1zM851 398h1v2h-1zM599 595h1v2h-1zM171 389h1v2h-1zM386 389h1v1h-1zM201 529h1v2h-1zM248 566h1v1h-1zM829 449h1v2h-1zM496 625h1v1h-1zM891 441h1v1h-1zM663 403h1v1h-1zM791 510h1v2h-1zM283 466h1v2h-1zM767 508h1v1h-1zM616 617h1v2h-1zM825 476h1v2h-1zM605 477h1v2h-1zM867 568h1v1h-1zM414 512h1v2h-1zM557 594h1v2h-1zM258 624h1v1h-1zM421 435h1v1h-1zM239 417h1v2h-1zM124 438h1v1h-1zM464 469h1v2h-1zM887 593h1v1h-1zM390 509h1v2h-1zM745 431h1v1h-1zM642 649h1v2h-1zM869 635h1v1h-1zM892 621h1v1h-1zM502 571h1v1h-1zM202 462h1v2h-1zM618 643h1v2h-1zM341 558h1v2h-1zM658 571h1v2h-1zM573 607h1v1h-1zM380 631h1v1h-1zM231 447h1v2h-1zM442 632h1v1h-1zM130 605h1v1h-1zM795 426h1v2h-1zM207 422h1v2h-1zM662 597h1v1h-1zM729 590h1v1h-1zM736 633h1v2h-1zM599 522h1v1h-1zM682 645h1v2h-1zM110 581h1v2h-1zM255 567h1v1h-1zM206 417h1v2h-1zM139 475h1v2h-1zM340 616h1v1h-1zM581 415h1v1h-1zM399 441h1v2h-1zM785 495h1v2h-1zM225 509h1v2h-1zM500 449h1v1h-1zM187 402h1v2h-1zM724 599h1v2h-1zM156 545h1v2h-1zM387 586h1v2h-1zM438 403h1v1h-1zM295 471h1v2h-1zM123 513h1v2h-1zM183 477h1v2h-1zM751 514h1v2h-1zM471 591h1v1h-1zM611 525h1v2h-1zM691 403h1v2h-1zM236 571h1v2h-1zM298 428h1v1h-1zM903 500h1v1h-1zM881 517h1v1h-1zM818 451h1v2h-1zM705 637h1v1h-1zM435 618h1v2h-1zM535 574h1v2h-1zM545 514h1v2h-1zM682 607h1v2h-1zM346 617h1v2h-1z" fill="#b85c08"/>
<path d="" fill="#7a8800"/>
<path d="M583 324h1v2h-1zM603 361h1v2h-1zM680 348h1v2h-1zM716 352h1v2h-1zM148 365h1v2h-1zM273 311h1v2h-1zM232 359h1v2h-1zM742 237h1v2h-1zM374 359h1v2h-1zM780 360h1v2h-1zM575 321h1v2h-1zM676 288h1v2h-1zM411 296h1v2h-1zM652 303h1v2h-1zM627 202h1v2h-1zM286 263h1v2h-1zM503 232h1v2h-1zM599 266h1v2h-1zM816 335h1v2h-1zM346 326h1v2h-1zM731 304h1v2h-1zM623 217h1v2h-1zM521 323h1v2h-1zM764 373h1v2h-1zM739 320h1v2h-1zM631 198h1v2h-1zM853 367h1v2h-1z" fill="#f4e400"/>
<path d="M749 332h1v2h-1zM228 337h1v2h-1zM579 254h1v2h-1zM777 297h1v2h-1zM122 247h1v2h-1zM720 228h1v2h-1zM331 256h1v2h-1zM735 274h1v2h-1zM853 374h1v2h-1zM228 253h1v2h-1zM574 288h1v2h-1zM648 240h1v2h-1zM406 350h1v2h-1zM487 227h1v2h-1zM143 347h1v2h-1zM581 211h1v2h-1zM300 326h1v2h-1zM353 258h1v2h-1zM622 260h1v2h-1zM328 308h1v2h-1zM464 332h1v2h-1zM176 260h1v2h-1zM543 238h1v2h-1zM633 359h1v2h-1zM733 223h1v2h-1zM640 337h1v2h-1zM317 265h1v2h-1zM792 303h1v2h-1zM311 292h1v2h-1zM461 197h1v2h-1zM338 271h1v2h-1zM827 331h1v2h-1zM852 343h1v2h-1zM857 342h1v2h-1zM845 340h1v2h-1zM832 351h1v2h-1zM853 366h1v2h-1zM826 359h1v2h-1zM830 327h1v2h-1zM854 364h1v2h-1z" fill="#f09c00"/>
<path d="M116 200h1v2h-1zM858 355h1v2h-1zM846 360h1v2h-1zM732 287h1v2h-1zM156 233h1v2h-1zM467 191h1v2h-1zM265 270h1v2h-1zM287 289h1v2h-1zM586 267h1v2h-1zM243 265h1v2h-1zM154 336h1v2h-1zM638 306h1v2h-1zM384 315h1v2h-1zM524 208h1v2h-1zM460 341h1v2h-1zM511 189h1v2h-1zM337 280h1v2h-1zM655 237h1v2h-1zM527 220h1v2h-1zM523 229h1v2h-1zM419 282h1v2h-1zM562 211h1v2h-1zM406 262h1v2h-1zM752 319h1v2h-1zM688 220h1v2h-1zM191 360h1v2h-1zM565 265h1v2h-1zM331 283h1v2h-1zM481 370h1v2h-1zM369 326h1v2h-1zM804 316h1v2h-1zM661 364h1v2h-1zM663 314h1v2h-1zM536 225h1v2h-1zM847 341h1v2h-1zM859 337h1v2h-1zM826 374h1v2h-1zM848 372h1v2h-1zM861 326h1v2h-1zM829 345h1v2h-1zM847 355h1v2h-1zM850 355h1v2h-1zM858 367h1v2h-1zM834 340h1v2h-1z" fill="#06061c"/>
<path d="M390 354h1v2h-1zM245 353h1v2h-1zM438 185h1v2h-1zM472 218h1v2h-1zM372 301h1v2h-1zM635 319h1v2h-1zM237 333h1v2h-1zM840 342h1v2h-1zM464 186h1v2h-1zM355 355h1v2h-1zM632 194h1v2h-1zM269 280h1v2h-1zM400 349h1v2h-1zM742 302h1v2h-1zM787 295h1v2h-1zM546 304h1v2h-1zM243 269h1v2h-1zM447 370h1v2h-1zM185 341h1v2h-1zM475 357h1v2h-1zM839 323h1v2h-1zM859 333h1v2h-1zM835 339h1v2h-1zM844 330h1v2h-1z" fill="#123078"/>
<path d="M474 224h1v2h-1zM394 347h1v2h-1zM684 368h1v2h-1zM242 350h1v2h-1zM374 348h1v2h-1zM482 217h1v2h-1zM330 292h1v2h-1zM702 250h1v2h-1zM763 347h1v2h-1zM551 302h1v2h-1zM158 245h1v2h-1zM724 352h1v2h-1zM767 269h1v2h-1zM288 356h1v2h-1zM170 364h1v2h-1zM654 205h1v2h-1zM142 345h1v2h-1zM530 182h1v2h-1zM693 370h1v2h-1zM829 326h1v2h-1zM859 332h1v2h-1zM851 338h1v2h-1z" fill="#10a088"/>
<path d="M861 364h1v2h-1zM848 350h1v2h-1zM855 352h1v2h-1zM852 353h1v2h-1zM841 365h1v2h-1zM853 357h1v2h-1zM858 345h1v2h-1zM859 354h1v2h-1zM859 335h1v2h-1zM831 322h1v2h-1zM842 338h1v2h-1z" fill="#e81c00"/>
<path d="M842 367h1v2h-1zM862 369h1v2h-1zM856 370h1v2h-1zM830 333h1v2h-1zM826 350h1v2h-1zM856 344h1v2h-1zM841 355h1v2h-1zM852 370h1v2h-1zM829 364h1v2h-1zM841 366h1v2h-1zM843 331h1v2h-1zM849 333h1v2h-1zM863 371h1v2h-1zM835 325h1v2h-1zM839 337h1v2h-1zM854 360h1v2h-1zM840 369h1v2h-1zM842 372h1v2h-1zM830 330h1v2h-1zM857 373h1v2h-1zM846 360h1v2h-1zM829 364h1v2h-1z" fill="#08a828"/>
</g>
<g filter="url(#tex2)" shape-rendering="crispEdges">
<rect x="105" y="657" width="808.5" height="2" fill="#a1a1a1"/>
</g>
<rect x="105" y="659" width="808.5" height="2.2" fill="#d20a00" shape-rendering="crispEdges"/>
<g stroke="#111" stroke-width="1.15" fill="none">
<rect x="104.6" y="53.0" width="808.9" height="627.0"/>
<path d="M145.6 680.0v-3.0M145.6 53.0v3.0M190.5 680.0v-3.0M190.5 53.0v3.0M235.4 680.0v-3.0M235.4 53.0v3.0M280.2 680.0v-3.0M280.2 53.0v3.0M325.1 680.0v-3.0M325.1 53.0v3.0M370.0 680.0v-6.0M370.0 53.0v6.0M414.9 680.0v-3.0M414.9 53.0v3.0M459.8 680.0v-3.0M459.8 53.0v3.0M504.6 680.0v-3.0M504.6 53.0v3.0M549.5 680.0v-3.0M549.5 53.0v3.0M594.4 680.0v-3.0M594.4 53.0v3.0M639.2 680.0v-6.0M639.2 53.0v6.0M684.1 680.0v-3.0M684.1 53.0v3.0M729.0 680.0v-3.0M729.0 53.0v3.0M773.9 680.0v-3.0M773.9 53.0v3.0M818.8 680.0v-3.0M818.8 53.0v3.0M863.6 680.0v-3.0M863.6 53.0v3.0M908.5 680.0v-6.0M908.5 53.0v6.0M104.6 680.0h6.0M913.5 680.0h-6.0M104.6 653.9h3.0M913.5 653.9h-3.0M104.6 627.8h3.0M913.5 627.8h-3.0M104.6 601.6h3.0M913.5 601.6h-3.0M104.6 575.5h6.0M913.5 575.5h-6.0M104.6 549.4h3.0M913.5 549.4h-3.0M104.6 523.2h3.0M913.5 523.2h-3.0M104.6 497.1h3.0M913.5 497.1h-3.0M104.6 471.0h6.0M913.5 471.0h-6.0M104.6 444.9h3.0M913.5 444.9h-3.0M104.6 418.8h3.0M913.5 418.8h-3.0M104.6 392.6h3.0M913.5 392.6h-3.0M104.6 366.5h6.0M913.5 366.5h-6.0M104.6 340.4h3.0M913.5 340.4h-3.0M104.6 314.2h3.0M913.5 314.2h-3.0M104.6 288.1h3.0M913.5 288.1h-3.0M104.6 262.0h6.0M913.5 262.0h-6.0M104.6 235.9h3.0M913.5 235.9h-3.0M104.6 209.8h3.0M913.5 209.8h-3.0M104.6 183.6h3.0M913.5 183.6h-3.0M104.6 157.5h6.0M913.5 157.5h-6.0M104.6 131.4h3.0M913.5 131.4h-3.0M104.6 105.2h3.0M913.5 105.2h-3.0M104.6 79.1h3.0M913.5 79.1h-3.0M104.6 53.0h6.0M913.5 53.0h-6.0"/>
</g>
<rect x="923.5" y="128.5" width="25.0" height="477.0" fill="url(#cb)" stroke="#333" stroke-width="0.8"/>
<path d="M948.5 152.3h-1.6M948.5 176.2h-1.6M948.5 200.1h-1.6M948.5 223.9h-1.6M948.5 247.8h-1.6M948.5 271.6h-1.6M948.5 295.4h-1.6M948.5 319.3h-1.6M948.5 343.1h-1.6M948.5 367.0h-1.6M948.5 390.9h-1.6M948.5 414.7h-1.6M948.5 438.6h-1.6M948.5 462.4h-1.6M948.5 486.2h-1.6M948.5 510.1h-1.6M948.5 534.0h-1.6M948.5 557.8h-1.6M948.5 581.6h-1.6" stroke="#000" stroke-width="1" fill="none"/>
<text x="522.8" y="39.5" text-anchor="middle" xml:space="preserve">Skewness   04:01 15.02.2020 - 07:01 15.02.2020 Muenchen</text>
<text x="99.9" y="65.6" text-anchor="end">12</text>
<text x="99.9" y="164.5" text-anchor="end">10</text>
<text x="99.9" y="269.0" text-anchor="end">8</text>
<text x="99.9" y="373.5" text-anchor="end">6</text>
<text x="99.9" y="478.0" text-anchor="end">4</text>
<text x="99.9" y="582.5" text-anchor="end">2</text>
<text x="99.9" y="679.8" text-anchor="end">0</text>
<text x="370.0" y="705.7" text-anchor="middle">05:00</text>
<text x="639.2" y="705.7" text-anchor="middle">06:00</text>
<text x="908.5" y="705.7" text-anchor="middle">07:00</text>
<text x="509.8" y="726.8" text-anchor="middle">Time UTC</text>
<text transform="translate(62.0 364) rotate(-90)" text-anchor="middle">Height km</text>
<text transform="translate(988.8 372.3) rotate(-90)" text-anchor="middle">SKWg</text>
<text x="953.5" y="183.2">4</text>
<text x="953.5" y="278.6">2</text>
<text x="953.5" y="374.0">0</text>
<text x="953.5" y="469.4">-2</text>
<text x="953.5" y="564.8">-4</text>
</svg></body></html>
